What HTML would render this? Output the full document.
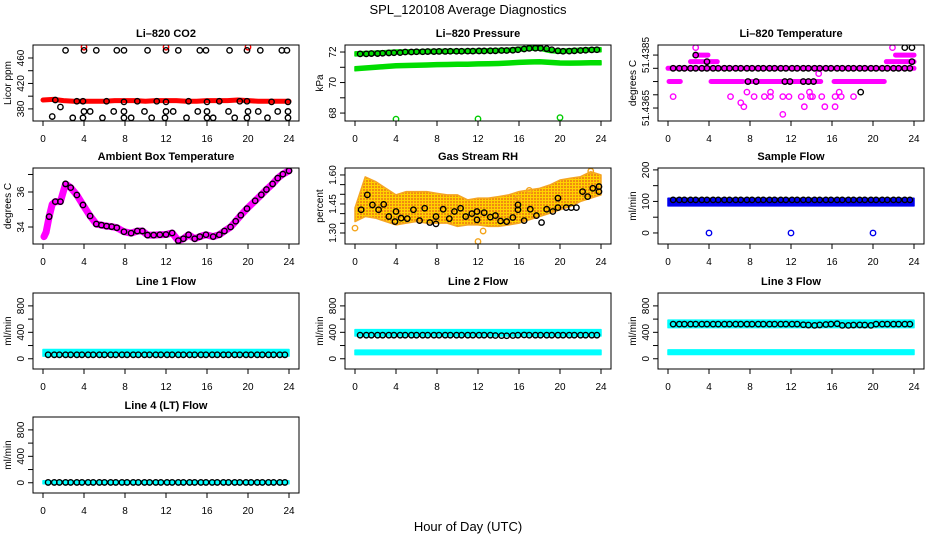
<!DOCTYPE html>
<html><head><meta charset="utf-8">
<style>
html,body{margin:0;padding:0;background:#fff;}
svg{display:block;font-family:"Liberation Sans",Arial,sans-serif;}
</style></head>
<body>
<svg id="c" width="936" height="540" viewBox="0 0 936 540">
<defs>
<pattern id="rhpat" width="3" height="3" patternUnits="userSpaceOnUse">
<rect width="3" height="3" fill="#ffd200"/>
<rect width="2" height="2" fill="#f08c10"/>
</pattern>
</defs>
<text x="468" y="14" font-size="13" text-anchor="middle">SPL_120108  Average Diagnostics</text>
<text x="468" y="531" font-size="13" text-anchor="middle">Hour of Day (UTC)</text>
</svg>
<script>
// ---- data ----
const hourly = [0,1,2,3,4,5,6,7,8,9,10,11,12,13,14,15,16,17,18,19,20,21,22,23,24];
const sampleHours = [0.5,1.1,1.6,2.2,2.7,3.3,3.8,4.4,4.9,5.5,6.0,6.6,7.1,7.7,8.2,8.8,9.3,9.9,10.4,11.0,11.5,12.1,12.6,13.2,13.7,14.3,14.8,15.4,15.9,16.5,17.0,17.6,18.1,18.7,19.2,19.8,20.3,20.9,21.4,22.0,22.5,23.1,23.6];
const xTicks = [0,4,8,12,16,20,24];

// CO2
const co2Band = [394,395,393,392,392,392,392,393,393,393,392,393,393,393,392,392,393,393,393,394,393,392,392,392,392];
const co2TopH = [2.2,4.0,5.2,7.2,7.9,10.2,12.0,13.2,15.3,15.9,18.2,19.9,21.2,23.3,23.8];
const co2TopV = [472,472,472,472,472,472,472,472,472,472,472,472,472,472,472];
const co2RedH = [4,12,20];
const co2RedV = [477,477,477];
const co2MidH = [1.2,3.3,3.9,6.2,7.9,9.2,11.1,12.0,14.2,16.0,17.2,19.2,19.9,22.3,23.9];
const co2MidV = [394,392,392,392,391,392,392,391,392,391,392,392,392,391,391];
const co2LowH = [0.9,1.7,4.0,4.6,6.9,7.9,9.9,12.0,12.7,15.1,16.0,18.1,20.0,21.0,22.9,23.9];
const co2LowV = [368,383,376,376,376,376,376,376,376,376,376,376,376,376,376,376];
const co2BotH = [2.9,3.9,5.8,7.9,8.6,10.6,11.9,14.0,16.0,16.6,18.7,19.9,21.9,23.9];
const co2BotV = [366,366,366,366,366,366,366,366,366,366,366,366,366,366];

// Pressure
const presUpper = [71.88,71.9,71.93,71.96,72.0,72.01,72.02,72.03,72.04,72.05,72.05,72.06,72.07,72.08,72.1,72.12,72.18,72.25,72.25,72.1,72.05,72.08,72.12,72.15,72.15];
const presLower = [70.9,70.95,71.0,71.05,71.1,71.12,71.13,71.15,71.17,71.18,71.2,71.2,71.22,71.23,71.25,71.28,71.32,71.35,71.36,71.32,71.28,71.27,71.28,71.3,71.3];
const presCirc = [71.88,71.88,71.9,71.9,71.92,71.94,71.95,71.96,72.0,72.0,72.02,72.02,72.03,72.03,72.04,72.04,72.05,72.05,72.05,72.06,72.06,72.07,72.07,72.08,72.08,72.1,72.1,72.12,72.15,72.2,72.24,72.25,72.25,72.22,72.15,72.08,72.05,72.06,72.08,72.1,72.12,72.14,72.15];
const presOutH = [4,12,20];
const presOutV = [67.6,67.62,67.7];

// Li-820 temperature
const runStart = [0,0.1,4.2,7.6,16.2,2.2,21.3,2.7,22.2];
const runEnd = [24,1.2,7.3,14.9,21.1,4.8,24,3.9,24];
const runLevel = [51.438,51.4375,51.4375,51.4375,51.4375,51.43825,51.43825,51.4385,51.4385];
const tempPtH = [0.5,6.1,8.4,9.4,10.0,11.2,11.8,13.0,13.9,14.1,15.0,16.3,16.9,18.1,7.7,10.0,13.8,16.7,14.7,7.1,7.4,13.3,15.3,16.3,11.2,2.7,21.9];
const tempPtV = [51.43693,51.43693,51.43693,51.43693,51.43693,51.43693,51.43693,51.43693,51.43693,51.43693,51.43693,51.43693,51.43693,51.43693,51.4371,51.4371,51.4371,51.4371,51.4378,51.4367,51.43655,51.43655,51.43655,51.43655,51.43626,51.43878,51.43878];
const tempCirc = [51.438,51.438,51.438,51.438,51.438,51.438,51.438,51.438,51.438,51.438,51.438,51.438,51.438,51.438,51.438,51.438,51.438,51.438,51.438,51.438,51.438,51.438,51.438,51.438,51.438,51.438,51.438,51.438,51.438,51.438,51.438,51.438,51.438,51.438,51.438,51.438,51.438,51.438,51.438,51.438,51.438,51.438,51.438];
const tempBlkH = [2.7,3.8,7.8,8.6,11.4,11.9,13.2,13.7,14.2,18.8,23.1,23.8,23.8];
const tempBlkV = [51.4385,51.43825,51.4375,51.4375,51.4375,51.4375,51.4375,51.4375,51.4375,51.4371,51.43878,51.43878,51.43825];

// Ambient box temperature
const ambH = [0.1,0.3,0.6,0.9,1.2,1.7,2.2,2.7,3.3,3.9,4.6,5.2,5.7,6.2,6.7,7.2,7.9,8.6,9.2,9.7,10.2,10.8,11.4,12.0,12.6,13.2,13.7,14.2,14.8,15.3,15.9,16.6,17.2,17.7,18.3,18.8,19.3,19.9,20.7,21.3,21.8,22.4,22.9,23.4,24.0];
const ambV = [33.45,33.7,34.59,35.3,35.45,35.45,36.46,36.25,35.83,35.26,34.63,34.17,34.11,34.05,34.02,33.96,33.73,33.65,33.77,33.77,33.54,33.54,33.56,33.57,33.66,33.22,33.33,33.56,33.33,33.45,33.56,33.45,33.56,33.77,34.0,34.33,34.67,35.05,35.5,35.84,36.14,36.46,36.79,37.02,37.21];
const ambCircH = [0.6,1.2,1.7,2.2,2.7,3.3,3.9,4.6,5.2,5.7,6.2,6.7,7.2,7.9,8.6,9.2,9.7,10.2,10.8,11.4,12.0,12.6,13.2,13.7,14.2,14.8,15.3,15.9,16.6,17.2,17.7,18.3,18.8,19.3,19.9,20.7,21.3,21.8,22.4,22.9,23.4,24.0];
const ambCircV = [34.59,35.45,35.45,36.46,36.25,35.83,35.26,34.63,34.17,34.11,34.05,34.02,33.96,33.73,33.65,33.77,33.77,33.54,33.54,33.56,33.57,33.66,33.22,33.33,33.56,33.33,33.45,33.56,33.45,33.56,33.77,34.0,34.33,34.67,35.05,35.5,35.84,36.14,36.46,36.79,37.02,37.21];

// Gas stream RH
const rhUpper = [1.43,1.59,1.566,1.531,1.497,1.514,1.514,1.514,1.505,1.497,1.497,1.471,1.48,1.48,1.488,1.497,1.514,1.523,1.531,1.548,1.574,1.583,1.591,1.617,1.60];
const rhLower = [1.359,1.385,1.377,1.359,1.342,1.351,1.359,1.351,1.351,1.351,1.334,1.342,1.342,1.334,1.334,1.342,1.351,1.368,1.385,1.402,1.42,1.437,1.463,1.48,1.497];
const rhOutH = [0.0,12.0,12.5,15.9,17.0,23.0];
const rhOutV = [1.325,1.256,1.31,1.48,1.52,1.62];
const rhCircH = [0.6,1.2,1.7,2.3,2.8,3.3,4.0,3.9,4.5,5.1,5.7,6.3,6.8,7.3,7.9,7.9,8.6,9.2,9.7,10.3,10.8,11.4,11.9,11.9,12.6,13.2,13.7,14.2,14.8,15.4,15.9,15.9,16.5,17.1,17.7,18.2,18.7,19.3,19.8,19.8,20.6,21.1,21.6,22.2,22.7,23.2,23.8,23.8];
const rhCircV = [1.42,1.497,1.445,1.42,1.448,1.385,1.411,1.359,1.377,1.374,1.42,1.364,1.428,1.354,1.347,1.385,1.423,1.374,1.411,1.428,1.385,1.40,1.368,1.411,1.405,1.382,1.39,1.362,1.359,1.38,1.42,1.445,1.364,1.423,1.39,1.354,1.423,1.411,1.431,1.48,1.431,1.431,1.431,1.514,1.488,1.531,1.54,1.514];

// Sample flow
const sfUpper = [110,110,110,110,110,110,110,110,110,110,110,110,110,110,110,110,110,110,110,110,110,110,110,110,110];
const sfLower = [86,86,86,86,86,86,86,86,86,86,86,86,86,86,86,86,86,86,86,86,86,86,86,86,86];
const sfCirc = [105,105,105,105,105,105,105,105,105,105,105,105,105,105,105,105,105,105,105,105,105,105,105,105,105,105,105,105,105,105,105,105,105,105,105,105,105,105,105,105,105,105,105];
const sfOutH = [4,12,20];
const sfOutV = [0,0,0];

// Line flows
const l1Upper = [140,140,140,140,140,140,140,140,140,140,140,140,140,140,140,140,140,140,140,140,140,140,140,140,140];
const l1Lower = [40,40,40,40,40,40,40,40,40,40,40,40,40,40,40,40,40,40,40,40,40,40,40,40,40];
const l1Circ = [60,60,60,60,60,60,60,60,60,60,60,60,60,60,60,60,60,60,60,60,60,60,60,60,60,60,60,60,60,60,60,60,60,60,60,60,60,60,60,60,60,60,60];
const l2UpUpper = [440,440,440,440,440,440,440,440,440,440,440,440,440,440,440,440,440,440,440,440,440,440,440,440,440];
const l2UpLower = [345,345,345,345,345,345,345,345,345,345,345,345,345,345,345,345,345,345,345,345,345,345,345,345,345];
const l2LoUpper = [130,130,130,130,130,130,130,130,130,130,130,130,130,130,130,130,130,130,130,130,130,130,130,130,130];
const l2LoLower = [62,62,62,62,62,62,62,62,62,62,62,62,62,62,62,62,62,62,62,62,62,62,62,62,62];
const l2Circ = [357,357,357,357,357,357,357,357,357,357,357,357,357,357,357,357,357,357,357,357,357,357,357,357,352,350,348,352,357,360,357,357,357,357,357,357,357,357,357,357,357,357,357];
const l3UpUpper = [585,585,585,585,585,585,585,585,585,585,585,585,585,585,585,585,585,585,585,585,585,585,585,585,585];
const l3UpLower = [472,472,472,472,472,472,472,472,472,472,472,472,472,472,472,472,472,472,472,472,472,472,472,472,472];
const l3LoUpper = [135,135,135,135,135,135,135,135,135,135,135,135,135,135,135,135,135,135,135,135,135,135,135,135,135];
const l3LoLower = [65,65,65,65,65,65,65,65,65,65,65,65,65,65,65,65,65,65,65,65,65,65,65,65,65];
const l3Circ = [524,524,524,524,524,524,524,524,524,524,524,524,524,524,524,524,524,524,524,524,524,524,524,515,510,505,512,518,524,530,505,505,510,512,510,505,524,524,524,524,524,524,524];
const l4Upper = [30,30,30,30,30,30,30,30,30,30,30,30,30,30,30,30,30,30,30,30,30,30,30,30,30];
const l4Lower = [-15,-15,-15,-15,-15,-15,-15,-15,-15,-15,-15,-15,-15,-15,-15,-15,-15,-15,-15,-15,-15,-15,-15,-15,-15];
const l4Circ = [5,5,5,5,5,5,5,5,5,5,5,5,5,5,5,5,5,5,5,5,5,5,5,5,5,5,5,5,5,5,5,5,5,5,5,5,5,5,5,5,5,5,5];

// ---- drawing ----
const NS = 'http://www.w3.org/2000/svg';
const svg = document.getElementById('c');
const colLeft = [33, 345, 658];
const rowTop = [45, 168, 293, 417];
const BW = 266, BH = 76;

function mk(tag, parent, attrs) {
  const e = document.createElementNS(NS, tag);
  for (const k in attrs) e.setAttribute(k, attrs[k]);
  parent.appendChild(e);
  return e;
}

function panel(name, col, row, title, ylab, ymin, ymax, yt, ylabels, draw) {
  const L = colLeft[col], T = rowTop[row];
  const g = mk('g', svg, {});
  
  
  const sx = h => L + 10 + h * 10.25;
  const sy = v => T + BH - (v - ymin) / (ymax - ymin) * BH;
  const clip = mk('clipPath', g, {id: 'clip-' + name});
  mk('rect', clip, {x: L, y: T, width: BW, height: BH});
  const plot = mk('g', g, {'clip-path': 'url(#clip-' + name + ')'});
  
  
  draw(plot, sx, sy);
  const box = mk('rect', g, {x: L, y: T, width: BW, height: BH, fill: 'none', stroke: '#000', 'stroke-width': 1});
  
  
  const t = mk('text', g, {x: L + BW / 2, y: T - 8, 'font-size': 11, 'font-weight': 'bold', 'text-anchor': 'middle'});
  t.textContent = title;
  
  
  const xa = mk('g', g, {});
  
  
  xTicks.forEach(h => {
    mk('line', xa, {x1: sx(h), x2: sx(h), y1: T + BH, y2: T + BH + 5, stroke: '#000'});
    const lt = mk('text', xa, {x: sx(h), y: T + BH + 21, 'font-size': 10, 'text-anchor': 'middle'});
    lt.textContent = h;
    
    
  });
  const ya = mk('g', g, {});
  
  
  yt.forEach((v, i) => {
    const y = sy(v);
    mk('line', ya, {x1: L - 5, x2: L, y1: y, y2: y, stroke: '#000'});
    if (ylabels[i]) {
      const lt = mk('text', ya, {x: L - 9, y: y, 'font-size': 10, 'text-anchor': 'middle', transform: 'rotate(-90 ' + (L - 9) + ' ' + y + ')'});
      lt.textContent = ylabels[i];
      
      
    }
  });
  const yl = mk('text', g, {x: L - 22, y: T + BH / 2, 'font-size': 10, 'text-anchor': 'middle', transform: 'rotate(-90 ' + (L - 22) + ' ' + (T + BH / 2) + ')'});
  yl.textContent = ylab;
  
  
}

function circles(g, sx, sy, xs, ys, color, name, r) {
  const gg = mk('g', g, {});
  
  
  xs.forEach((h, i) => {
    const c = mk('circle', gg, {cx: sx(h), cy: sy(ys[i]), r: r || 2.7, fill: 'none', stroke: color, 'stroke-width': 1.4});
    
    
  });
}
function band(g, sx, sy, xs, lo, hi, color, name, pad) {
  pad = pad || 0;
  let pts = xs.map((h, i) => (sx(h)) + ',' + (sy(hi[i]) - pad));
  pts = pts.concat(xs.slice().reverse().map((h, j) => { const i = xs.length - 1 - j; return sx(h) + ',' + (sy(lo[i]) + pad); }));
  const p = mk('polygon', g, {points: pts.join(' '), fill: color, stroke: color.startsWith('url') ? '#f5a623' : color, 'stroke-width': 1.5, 'stroke-linejoin': 'round'});
  
  
}
function thick(g, sx, sy, xs, ys, color, w, name) {
  const p = mk('polyline', g, {points: xs.map((h, i) => sx(h) + ',' + sy(ys[i])).join(' '), fill: 'none', stroke: color, 'stroke-width': w, 'stroke-linecap': 'round', 'stroke-linejoin': 'round'});
  
  
}

panel('co2', 0, 0, 'Li\u2013820 CO2', 'Licor ppm', 361, 480.4, [380,400,420,440,460], ['380','','420','','460'], (g, sx, sy) => {
  thick(g, sx, sy, hourly, co2Band, '#ff0000', 5, 'co2-red-band');
  circles(g, sx, sy, co2RedH, co2RedV, '#ff0000', 'co2-red-outliers');
  circles(g, sx, sy, co2TopH, co2TopV, '#000', 'co2-high-points');
  circles(g, sx, sy, co2MidH, co2MidV, '#000', 'co2-mean-points');
  circles(g, sx, sy, co2LowH, co2LowV, '#000', 'co2-low-points');
  circles(g, sx, sy, co2BotH, co2BotV, '#000', 'co2-bottom-points');
});
panel('pressure', 1, 0, 'Li\u2013820 Pressure', 'kPa', 67.48, 72.46, [68,69,70,71,72], ['68','','70','','72'], (g, sx, sy) => {
  band(g, sx, sy, hourly, presLower, presLower, '#00dd00', 'pressure-lower-band', 2);
  band(g, sx, sy, hourly, presUpper, presUpper, '#00dd00', 'pressure-upper-band', 2);
  circles(g, sx, sy, sampleHours, presCirc, '#000', 'pressure-points');
  circles(g, sx, sy, presOutH, presOutV, '#00cc00', 'pressure-outliers');
});
panel('licor-temp', 2, 0, 'Li\u2013820 Temperature', 'degrees C', 51.43601, 51.43888, [51.4385,51.438,51.4375,51.437,51.4365], ['51.4385','','','','51.4365'], (g, sx, sy) => {
  const gg = mk('g', g, {});
  
  
  runStart.forEach((s, i) => {
    const l = mk('line', gg, {x1: sx(s), x2: sx(runEnd[i]), y1: sy(runLevel[i]), y2: sy(runLevel[i]), stroke: '#ff00ff', 'stroke-width': 5, 'stroke-linecap': 'round'});
    
    
  });
  circles(g, sx, sy, tempPtH, tempPtV, '#ff00ff', 'licor-temp-points');
  circles(g, sx, sy, sampleHours, tempCirc, '#000', 'licor-temp-mean-points');
  circles(g, sx, sy, tempBlkH, tempBlkV, '#000', 'licor-temp-other-means');
});
panel('ambient-temp', 0, 1, 'Ambient Box Temperature', 'degrees C', 33.03, 37.37, [34,35,36,37], ['34','','36',''], (g, sx, sy) => {
  thick(g, sx, sy, ambH, ambV, '#ff00ff', 7, 'ambient-temp-band');
  circles(g, sx, sy, ambCircH, ambCircV, '#000', 'ambient-temp-points');
});
panel('rh', 1, 1, 'Gas Stream RH', 'percent', 1.243, 1.636, [1.30,1.35,1.40,1.45,1.50,1.55,1.60], ['1.30','','','1.45','','','1.60'], (g, sx, sy) => {
  band(g, sx, sy, hourly, rhLower, rhUpper, 'url(#rhpat)', 'rh-band', 0);
  circles(g, sx, sy, rhOutH, rhOutV, '#f4a41a', 'rh-outliers');
  circles(g, sx, sy, rhCircH, rhCircV, '#000', 'rh-points');
});
panel('sample-flow', 2, 1, 'Sample Flow', 'ml/min', -35, 206, [0,50,100,150,200], ['0','','100','','200'], (g, sx, sy) => {
  band(g, sx, sy, hourly, sfLower, sfUpper, '#0000ee', 'sample-flow-band', 0);
  circles(g, sx, sy, sampleHours, sfCirc, '#000', 'sample-flow-points');
  circles(g, sx, sy, sfOutH, sfOutV, '#0000ee', 'sample-flow-outliers');
});
const flowTicks = [0,200,400,600,800], flowLabels = ['0','','400','','800'];
panel('line1-flow', 0, 2, 'Line 1 Flow', 'ml/min', -155, 995, flowTicks, flowLabels, (g, sx, sy) => {
  band(g, sx, sy, hourly, l1Lower, l1Upper, '#00ffff', 'line1-flow-band', 0);
  circles(g, sx, sy, sampleHours, l1Circ, '#000', 'line1-flow-points');
});
panel('line2-flow', 1, 2, 'Line 2 Flow', 'ml/min', -155, 995, flowTicks, flowLabels, (g, sx, sy) => {
  band(g, sx, sy, hourly, l2UpLower, l2UpUpper, '#00ffff', 'line2-flow-upper-band', 0);
  band(g, sx, sy, hourly, l2LoLower, l2LoUpper, '#00ffff', 'line2-flow-lower-band', 0);
  circles(g, sx, sy, sampleHours, l2Circ, '#000', 'line2-flow-points');
});
panel('line3-flow', 2, 2, 'Line 3 Flow', 'ml/min', -155, 995, flowTicks, flowLabels, (g, sx, sy) => {
  band(g, sx, sy, hourly, l3UpLower, l3UpUpper, '#00ffff', 'line3-flow-upper-band', 0);
  band(g, sx, sy, hourly, l3LoLower, l3LoUpper, '#00ffff', 'line3-flow-lower-band', 0);
  circles(g, sx, sy, sampleHours, l3Circ, '#000', 'line3-flow-points');
});
panel('line4-flow', 0, 3, 'Line 4 (LT) Flow', 'ml/min', -155, 995, flowTicks, flowLabels, (g, sx, sy) => {
  band(g, sx, sy, hourly, l4Lower, l4Upper, '#00ffff', 'line4-flow-band', 0);
  circles(g, sx, sy, sampleHours, l4Circ, '#000', 'line4-flow-points');
});
</script>
</body></html>
